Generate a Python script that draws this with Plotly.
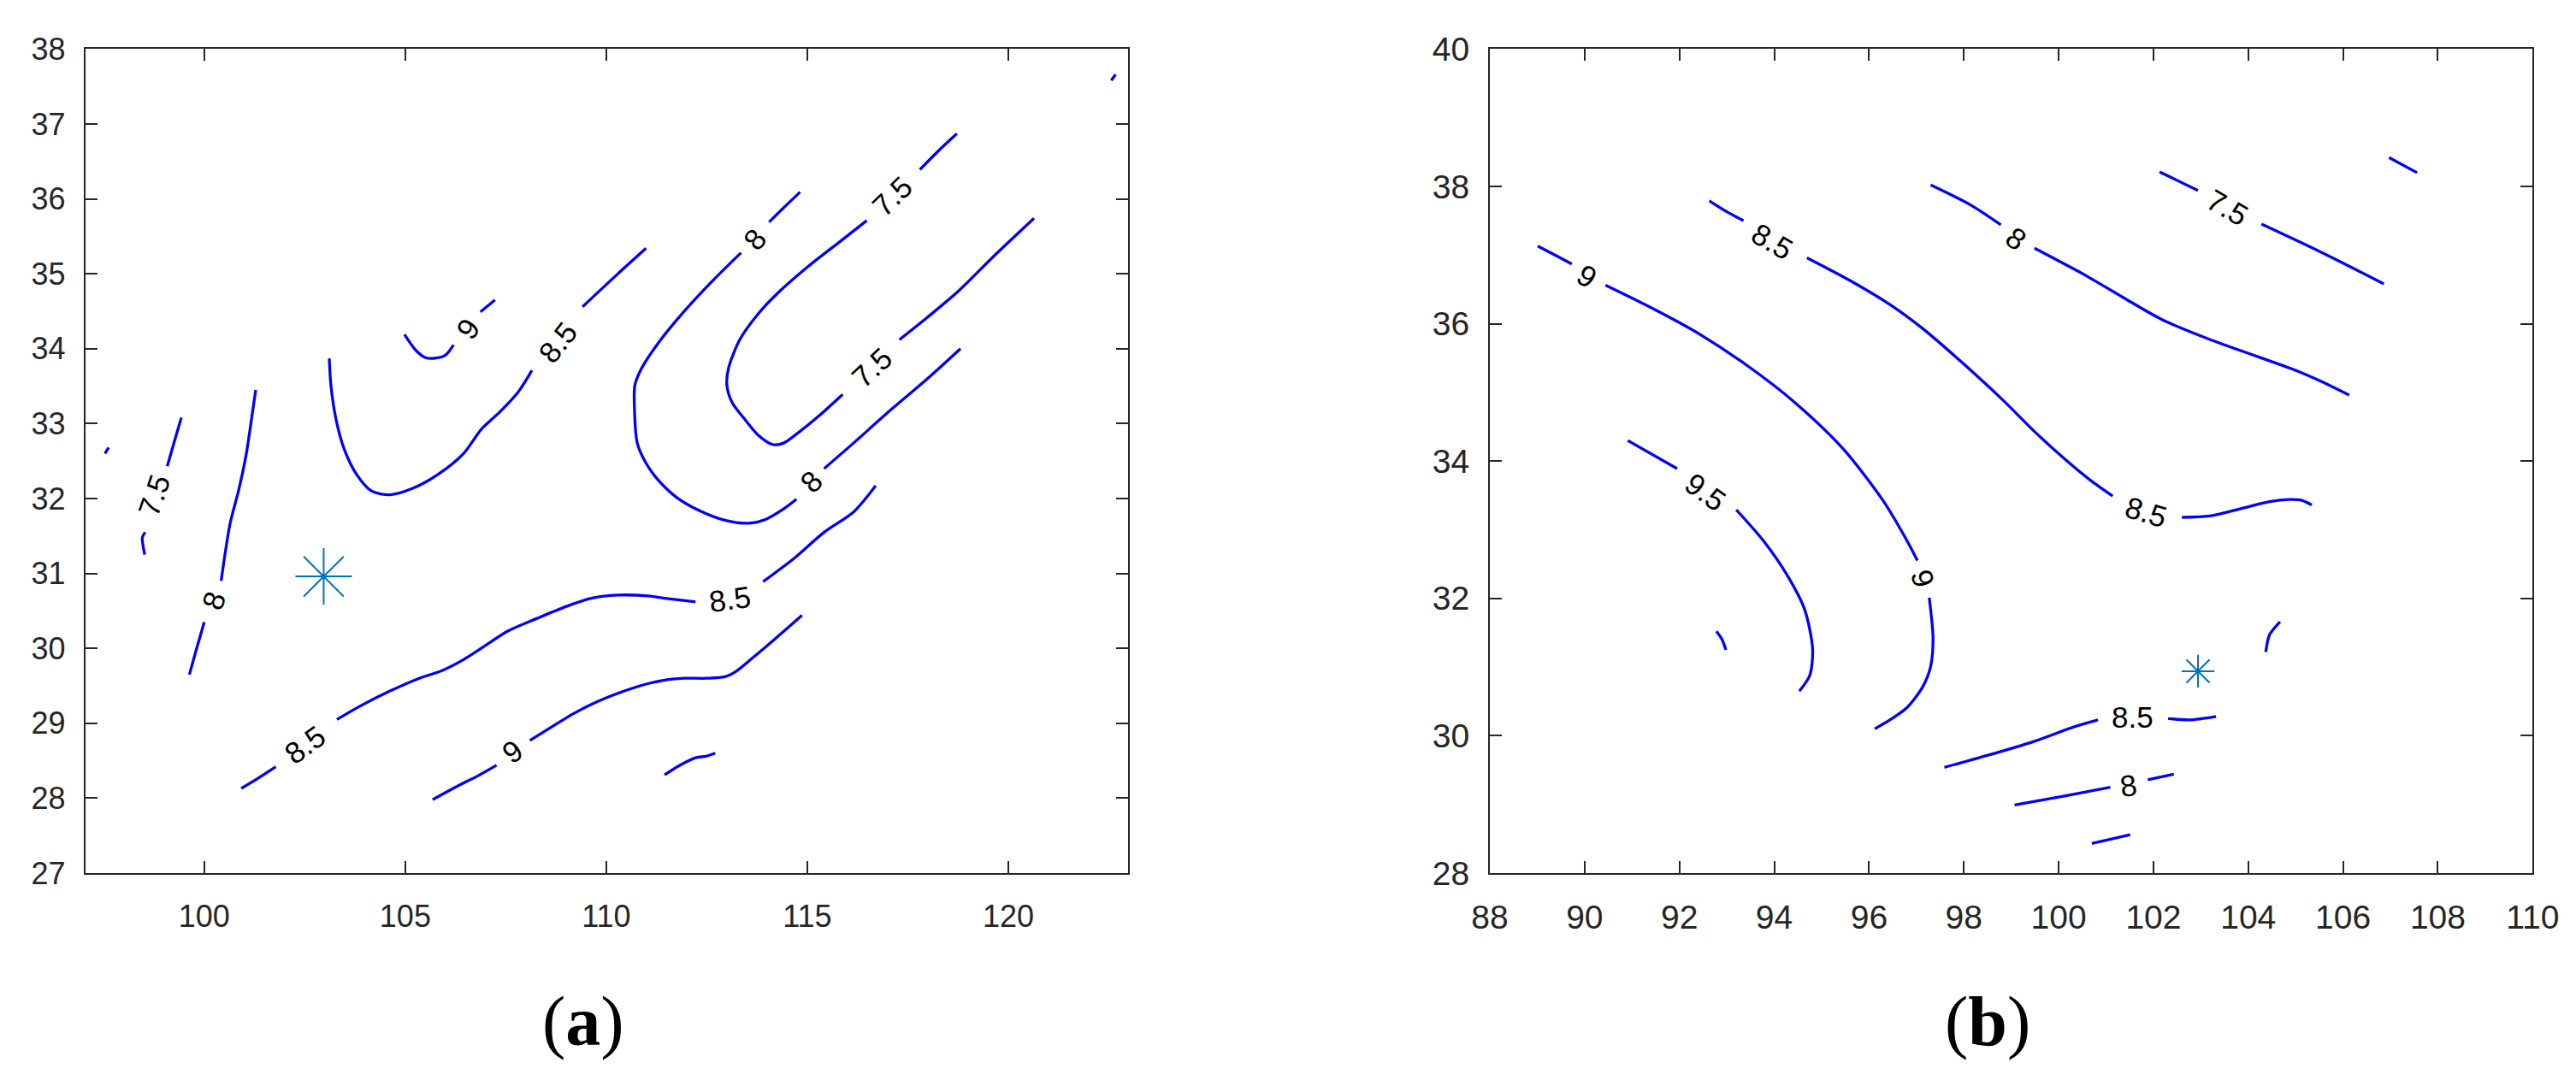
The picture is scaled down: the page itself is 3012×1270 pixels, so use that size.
# Two labelled contour maps, (a) and (b), with the station marked by an asterisk.
import plotly.graph_objects as go

# ---------------- panel (a) : contour pieces, (x, y) ----------------
a_75_corner = [(97.53, 32.60), (97.62, 32.68)]
a_75_left_top = [(99.43, 33.08), (99.25, 32.75), (99.08, 32.43)]
a_75_left_bot = [(98.53, 31.55), (98.46, 31.48), (98.48, 31.36), (98.52, 31.25)]
a_80_left_top = [(101.28, 33.45), (101.17, 33.04), (101.04, 32.58), (100.86, 32.12),
                 (100.64, 31.66), (100.42, 30.90)]
a_80_left_bot = [(100.00, 30.35), (99.80, 29.98), (99.63, 29.65)]
a_85_u_left = [(103.11, 33.87), (103.15, 33.51), (103.28, 33.05), (103.48, 32.66),
               (103.79, 32.32), (104.16, 32.10), (104.62, 32.05), (105.16, 32.13),
               (105.81, 32.32), (106.45, 32.60), (106.90, 32.93), (107.36, 33.16),
               (107.82, 33.43), (108.15, 33.71)]
a_85_u_right = [(109.41, 34.56), (110.29, 35.00), (110.99, 35.34)]
a_90_small_a = [(104.98, 34.19), (105.26, 33.98), (105.50, 33.88), (105.68, 33.87),
                (105.99, 33.91), (106.20, 34.05)]
a_90_small_b = [(106.87, 34.49), (107.23, 34.65)]
a_80_big_top = [(114.82, 36.09), (114.41, 35.88), (114.05, 35.69)]
a_80_big_mid = [(113.35, 35.28), (112.67, 34.92), (111.94, 34.50), (111.30, 34.08),
                (110.88, 33.74), (110.71, 33.51), (110.70, 33.20), (110.77, 32.74),
                (110.99, 32.47), (111.30, 32.24), (111.76, 32.01), (112.31, 31.84),
                (112.95, 31.71), (113.55, 31.67), (113.96, 31.72), (114.41, 31.86),
                (114.73, 31.99)]
a_80_big_end = [(115.42, 32.40), (116.15, 32.74), (117.07, 33.18), (117.99, 33.60),
                (118.81, 34.00)]
a_75_u_top = [(118.72, 36.87), (118.26, 36.64), (117.80, 36.39)]
a_75_u_mid = [(116.48, 35.71), (115.79, 35.42), (115.05, 35.11), (114.32, 34.77),
              (113.77, 34.46), (113.32, 34.12), (113.04, 33.74), (113.00, 33.51),
              (113.13, 33.28), (113.41, 33.08), (113.77, 32.85), (114.14, 32.72),
              (114.41, 32.74), (114.78, 32.88), (115.24, 33.08), (115.88, 33.39)]
a_75_u_end = [(117.29, 34.12), (117.99, 34.42), (118.72, 34.75), (119.63, 35.23),
              (120.64, 35.74)]
a_75_top_corner = [(122.56, 37.58), (122.67, 37.66)]
a_85_low_a = [(100.92, 28.13), (101.32, 28.26), (101.78, 28.42)]
a_85_low_b = [(103.30, 29.05), (103.88, 29.23), (104.62, 29.43), (105.35, 29.60),
              (105.90, 29.70), (106.45, 29.85), (107.00, 30.04), (107.55, 30.23),
              (108.28, 30.40), (109.01, 30.56), (109.65, 30.67), (110.29, 30.71),
              (111.03, 30.70), (111.58, 30.66), (112.22, 30.62)]
a_85_low_c = [(113.90, 30.89), (114.69, 31.21), (115.42, 31.55), (116.15, 31.82),
              (116.70, 32.17)]
a_90_low_a = [(105.68, 27.98), (106.26, 28.15), (106.81, 28.30), (107.27, 28.44)]
a_90_low_b = [(108.10, 28.77), (108.64, 28.95), (109.19, 29.13), (109.74, 29.28),
              (110.29, 29.40), (110.84, 29.50), (111.39, 29.57), (111.94, 29.60),
              (112.49, 29.60), (112.95, 29.62), (113.22, 29.69), (113.59, 29.85),
              (114.14, 30.10), (114.87, 30.44)]
a_85_bottom = [(111.45, 28.31), (111.80, 28.43), (112.22, 28.54), (112.49, 28.56),
               (112.71, 28.60)]

A_PIECES = [a_75_corner, a_75_left_top, a_75_left_bot, a_80_left_top, a_80_left_bot,
            a_85_u_left, a_85_u_right, a_90_small_a, a_90_small_b, a_80_big_top,
            a_80_big_mid, a_80_big_end, a_75_u_top, a_75_u_mid, a_75_u_end,
            a_75_top_corner, a_85_low_a, a_85_low_b, a_85_low_c, a_90_low_a,
            a_90_low_b, a_85_bottom]

A_LABEL_TEXT = ["7.5", "8", "8.5", "9", "8", "8", "7.5", "7.5", "8.5", "9", "8.5"]
A_LABEL_X = [98.75, 100.24, 108.79, 106.56, 113.70, 115.09, 117.11, 116.61, 102.51, 107.66, 113.08]
A_LABEL_Y = [32.04, 30.63, 34.08, 34.26, 35.46, 32.22, 36.03, 33.75, 28.72, 28.63, 30.66]
A_LABEL_ANGLE = [-71, -70, -52, -55, -50, -46, -44, -43, -36, -36, -8]

A_STATION = (102.97, 30.96)
A_XRANGE = [97.04, 122.97]
A_YRANGE = [27, 38]
A_XTICKS = [100, 105, 110, 115, 120]
A_YTICKS = list(range(27, 39))

# ---------------- panel (b) ----------------
b_90_a = [(89.01, 37.13), (89.40, 36.99), (89.73, 36.87)]
b_90_b = [(90.44, 36.56), (91.41, 36.23), (92.42, 35.85), (93.43, 35.39), (94.44, 34.85),
          (95.45, 34.18), (96.29, 33.43), (96.80, 32.84), (97.02, 32.55)]
b_90_c = [(97.27, 32.01), (97.35, 31.42), (97.30, 31.01), (97.13, 30.71), (96.80, 30.41),
          (96.46, 30.24), (96.12, 30.10)]
b_85_a = [(92.63, 37.79), (93.00, 37.63), (93.35, 37.50)]
b_85_b = [(94.69, 36.96), (95.62, 36.62), (96.46, 36.27), (97.13, 35.93), (97.97, 35.43),
          (98.82, 34.89), (99.49, 34.43), (100.16, 34.01), (100.67, 33.72), (101.14, 33.49)]
b_85_c = [(102.60, 33.18), (103.19, 33.20), (103.86, 33.31), (104.45, 33.41),
          (104.87, 33.44), (105.12, 33.43), (105.34, 33.36)]
b_80_a = [(97.30, 38.02), (98.14, 37.73), (98.78, 37.44)]
b_80_b = [(99.49, 37.10), (100.50, 36.73), (101.34, 36.39), (102.18, 36.06),
          (103.19, 35.77), (104.20, 35.52), (105.04, 35.31), (105.54, 35.16), (106.13, 34.96)]
b_75_a = [(102.13, 38.21), (102.94, 37.94)]
b_75_b = [(104.28, 37.45), (105.54, 37.04), (106.86, 36.58)]
b_75_corner = [(106.97, 38.42), (107.56, 38.20)]
b_95_a = [(90.91, 34.30), (91.95, 33.89)]
b_95_b = [(93.20, 33.29), (93.77, 32.84), (94.27, 32.34), (94.64, 31.84), (94.81, 31.26),
          (94.75, 30.88), (94.53, 30.65)]
b_95_small = [(92.78, 31.52), (92.90, 31.40), (92.98, 31.25)]
b_85_low_a = [(97.59, 29.54), (98.48, 29.71), (99.49, 29.92), (100.33, 30.13), (100.83, 30.23)]
b_85_low_b = [(102.31, 30.25), (102.77, 30.23), (103.32, 30.28)]
b_80_low_a = [(99.07, 28.99), (100.10, 29.12), (101.09, 29.25)]
b_80_low_b = [(101.88, 29.36), (102.43, 29.44)]
b_80_bottom = [(100.70, 28.43), (101.51, 28.56)]
b_near_station = [(104.37, 31.22), (104.45, 31.47), (104.67, 31.66)]

B_PIECES = [b_90_a, b_90_b, b_90_c, b_85_a, b_85_b, b_85_c, b_80_a, b_80_b, b_75_a,
            b_75_b, b_75_corner, b_95_a, b_95_b, b_95_small, b_85_low_a, b_85_low_b,
            b_80_low_a, b_80_low_b, b_80_bottom, b_near_station]

B_LABEL_TEXT = ["9", "9", "8.5", "8.5", "8", "7.5", "9.5", "8.5", "8"]
B_LABEL_X = [90.04, 97.13, 93.97, 101.84, 99.10, 103.56, 92.56, 101.56, 101.47]
B_LABEL_Y = [36.70, 32.30, 37.20, 33.26, 37.25, 37.69, 33.55, 30.27, 29.28]
B_LABEL_ANGLE = [32, 74, 30, 17, 36, 30, 36, 0, -8]

B_STATION = (102.94, 30.94)
B_XRANGE = [88, 110]
B_YRANGE = [28, 40]
B_XTICKS = list(range(88, 111, 2))
B_YTICKS = list(range(28, 41, 2))

PANEL_TAGS = ["(<b>a</b>)", "(<b>b</b>)"]

# ---------------- styling ----------------
W, H = 3012, 1270
LINE_BLUE = "#0000FF"
MARK_BLUE = "#0072BD"
AX_COLOR = "#262626"
SANS = "Liberation Sans, Arial, sans-serif"
SERIF = "Liberation Serif, Times New Roman, serif"


def add_pieces(fig, pieces, xref, yref):
    for seg in pieces:
        fig.add_trace(go.Scatter(
            x=[p[0] for p in seg], y=[p[1] for p in seg],
            xaxis=xref, yaxis=yref, mode="lines",
            line=dict(color=LINE_BLUE, width=3.3, shape="spline", smoothing=0.8),
            showlegend=False, hoverinfo="skip"))


def add_labels(fig, texts, xs, ys, angles, xref, yref):
    for t, x, y, ang in zip(texts, xs, ys, angles):
        fig.add_annotation(x=x, y=y, xref=xref, yref=yref, text=t, showarrow=False,
                           textangle=ang, font=dict(family=SANS, size=35, color="black"))


def add_station(fig, pt, size, xref, yref):
    fig.add_trace(go.Scatter(x=[pt[0]], y=[pt[1]], xaxis=xref, yaxis=yref,
                             mode="markers", showlegend=False, hoverinfo="skip",
                             marker=dict(symbol="asterisk-open", size=size, color=MARK_BLUE,
                                         line=dict(color=MARK_BLUE, width=2))))


def axis_style(rng, ticks, domain, font_size, standoff, anchor):
    return dict(range=rng, tickvals=ticks, domain=domain, anchor=anchor,
                showline=True, linecolor=AX_COLOR, linewidth=2, mirror="ticks",
                ticks="inside", ticklen=14, tickwidth=2, tickcolor=AX_COLOR,
                showgrid=False, zeroline=False, automargin=False,
                ticklabelstandoff=standoff,
                tickfont=dict(family=SANS, size=font_size, color=AX_COLOR))


fig = go.Figure()

add_pieces(fig, A_PIECES, "x", "y")
add_pieces(fig, B_PIECES, "x2", "y2")
add_labels(fig, A_LABEL_TEXT, A_LABEL_X, A_LABEL_Y, A_LABEL_ANGLE, "x", "y")
add_labels(fig, B_LABEL_TEXT, B_LABEL_X, B_LABEL_Y, B_LABEL_ANGLE, "x2", "y2")
add_station(fig, A_STATION, 55, "x", "y")
add_station(fig, B_STATION, 32, "x2", "y2")

y_dom = [1 - 1013 / H, 1 - 49.3 / H]
fig.update_layout(
    width=W, height=H,
    margin=dict(l=0, r=0, t=0, b=0),
    paper_bgcolor="white", plot_bgcolor="white",
    xaxis=axis_style(A_XRANGE, A_XTICKS, [91.7 / W, 1310.6 / W], 36, 18, "y"),
    yaxis=axis_style(A_YRANGE, A_YTICKS, y_dom, 36, 14, "x"),
    xaxis2=axis_style(B_XRANGE, B_XTICKS, [1734 / W, 2953.3 / W], 39, 16, "y2"),
    yaxis2=axis_style(B_YRANGE, B_YTICKS, y_dom, 39, 14, "x2"),
)

for tag, xc in zip(PANEL_TAGS, [674 / W, 2316 / W]):
    fig.add_annotation(x=xc, y=1 - 1186 / H, xref="paper", yref="paper", text=tag,
                       showarrow=False, xanchor="center", yanchor="middle",
                       font=dict(family=SERIF, size=82, color="black"))

fig.write_html("out.html")
